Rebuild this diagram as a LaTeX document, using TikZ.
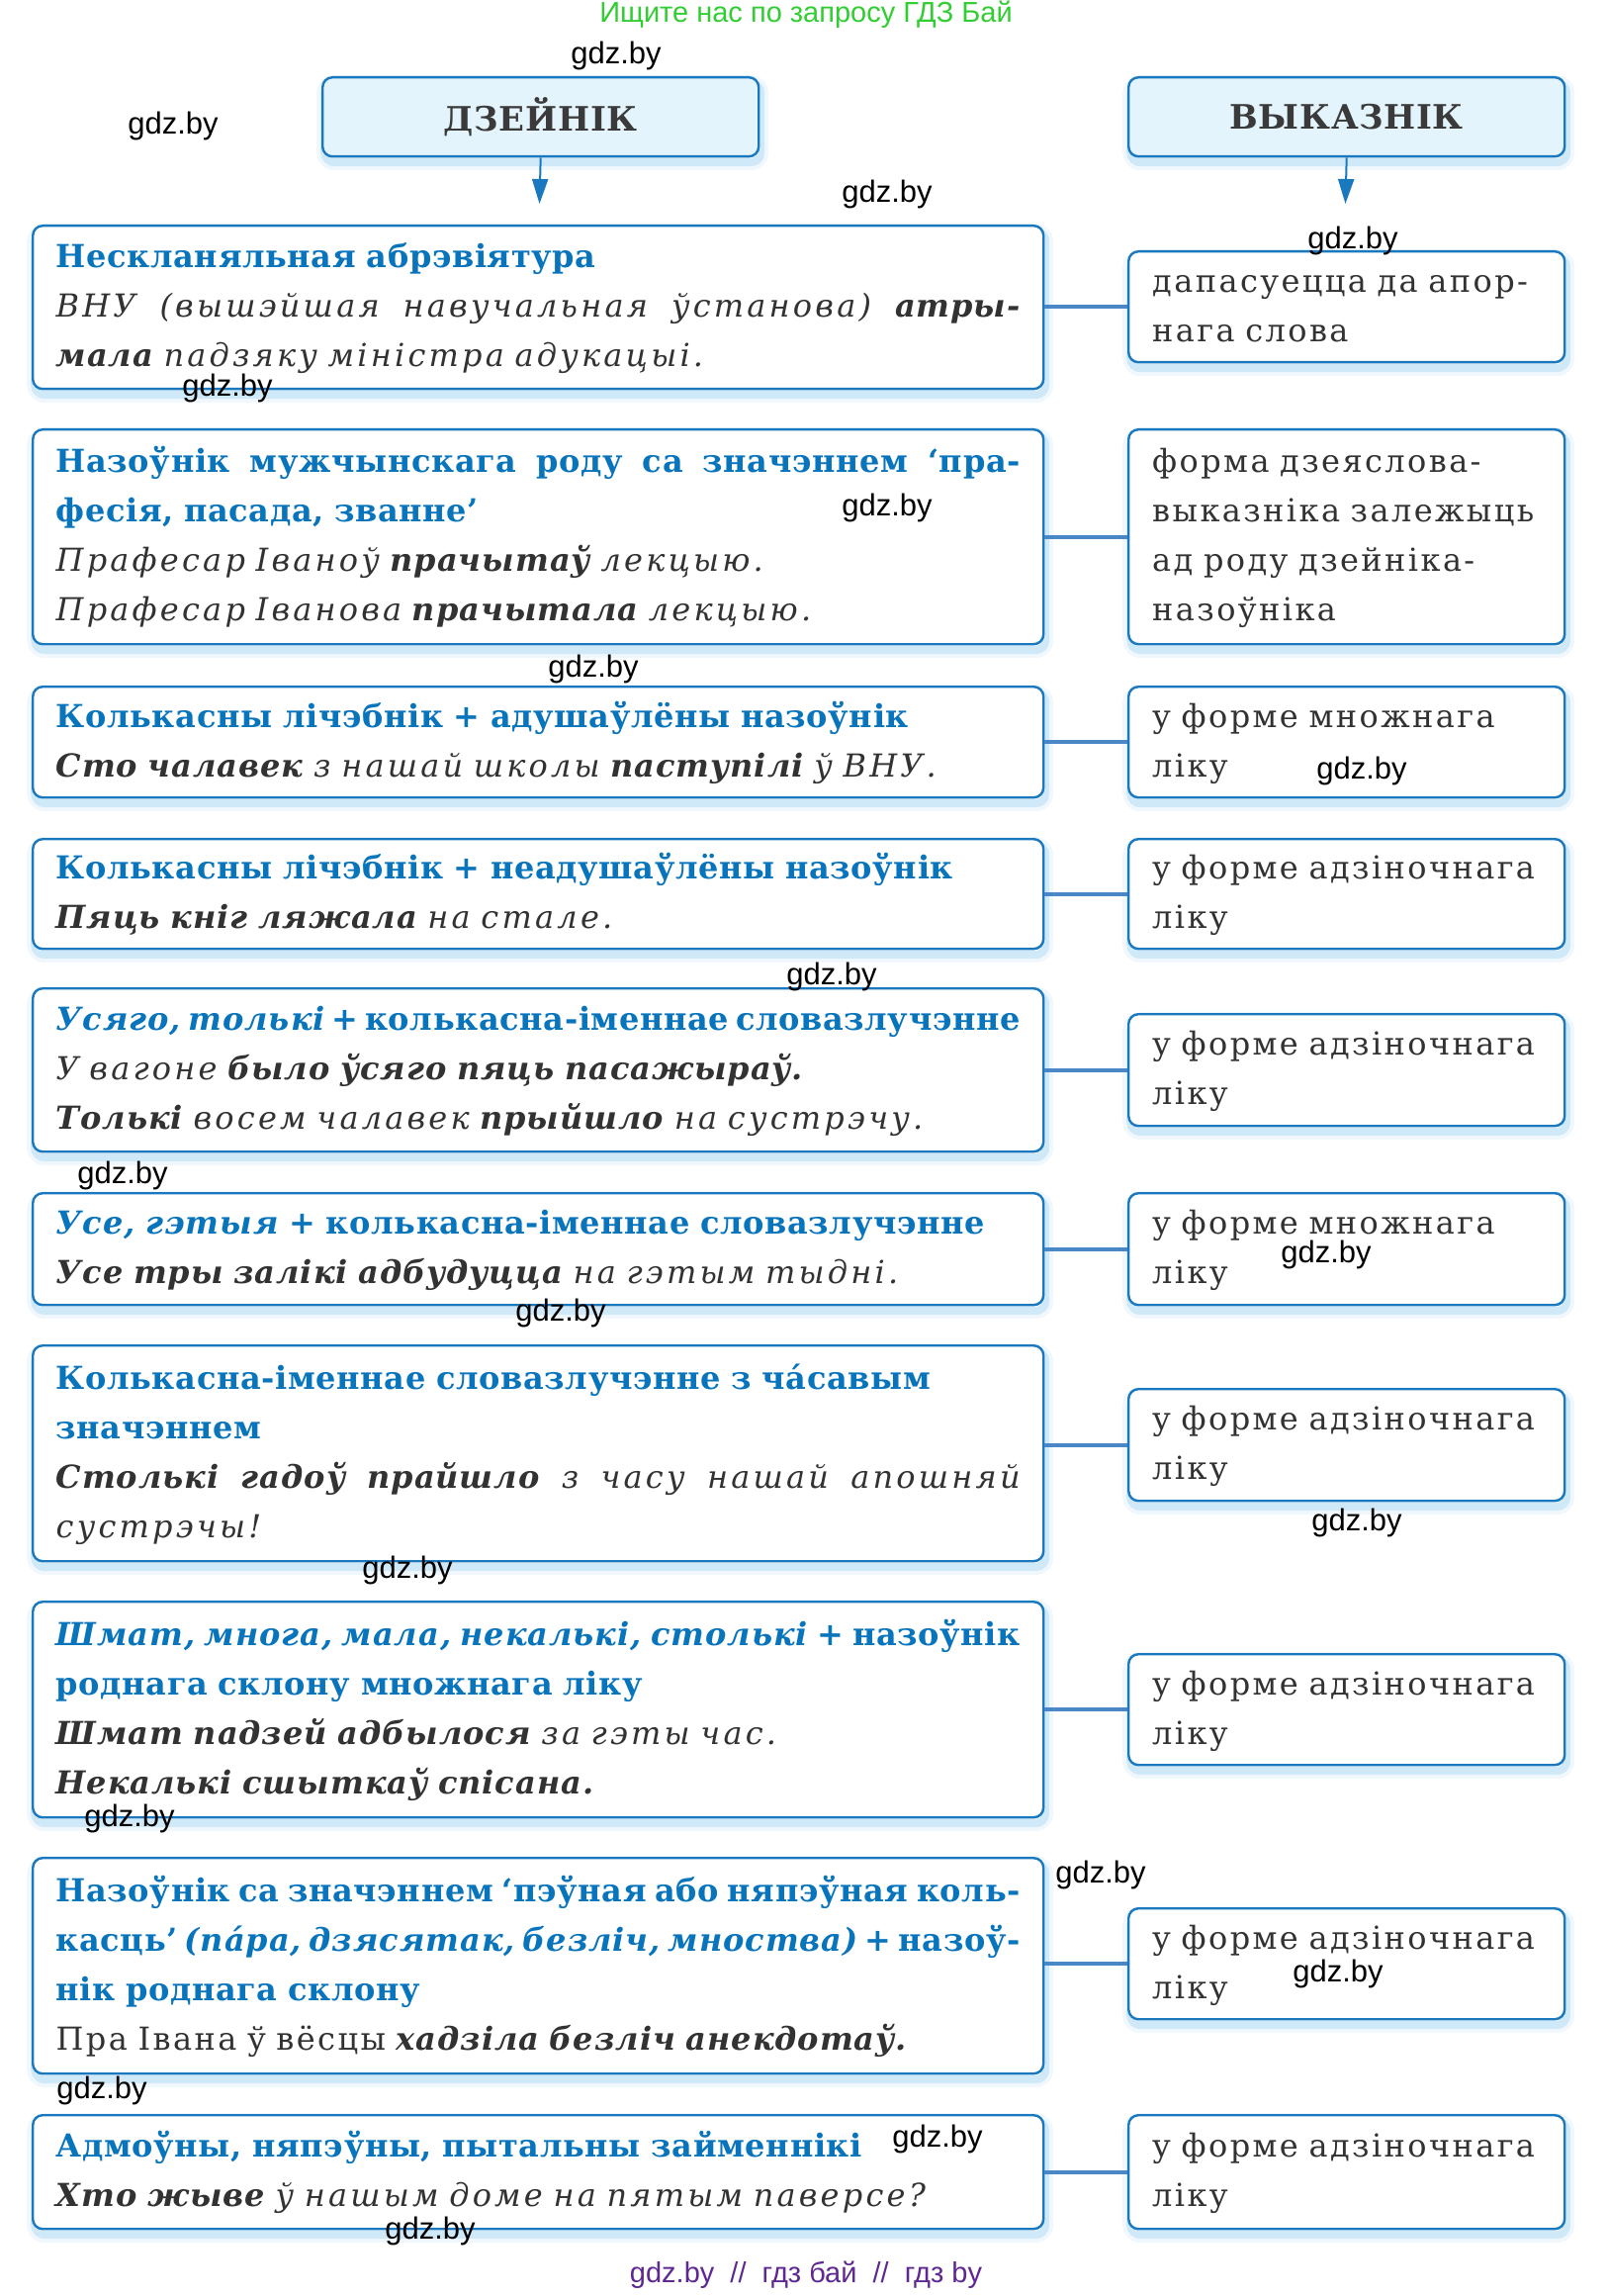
\documentclass[tikz,border=0pt]{standalone}
\usepackage{fontspec}
\setmainfont{DejaVu Serif}[UprightFeatures={LetterSpace=7.5},ItalicFeatures={LetterSpace=10},BoldFeatures={LetterSpace=2},BoldItalicFeatures={LetterSpace=3}]
\newfontfamily\wmfont{Liberation Sans}
\usetikzlibrary{arrows.meta}
\definecolor{bord}{RGB}{26,120,190}
\definecolor{headblue}{RGB}{8,116,188}
\definecolor{conn}{RGB}{74,135,198}
\definecolor{hfill}{RGB}{228,244,252}
\definecolor{txt}{RGB}{50,50,50}
\definecolor{htxt}{RGB}{58,58,58}
\definecolor{glow}{RGB}{170,215,242}
\definecolor{topgreen}{RGB}{50,205,50}
\definecolor{footpurple}{RGB}{95,40,145}
\newcommand\Hd[1]{{\bfseries\color{headblue}#1}}
\newcommand\Hi[1]{{\bfseries\itshape\color{headblue}#1}}
\newcommand\Ei[1]{{\itshape #1}}
\newcommand\Eb[1]{{\bfseries\itshape #1}}
\newcommand\jl[1]{{\spaceskip=0.32em plus 2em minus 0.16em\makebox[487.5pt][s]{#1}}}
\newcommand\pl[1]{\mbox{#1}}
\tikzset{
  glowy/.style={
    preaction={draw=glow, line width=8pt, opacity=0.18, transform canvas={xshift=1pt,yshift=-3pt}},
    preaction={draw=glow, line width=4pt, opacity=0.45, transform canvas={xshift=1pt,yshift=-3pt}}},
  basebox/.style={glowy, draw=bord, line width=1.2pt, rounded corners=5pt, fill=white,
    anchor=north west, inner ysep=0pt, align=left, text=txt,
    font=\fontsize{16}{25}\selectfont,
    execute at begin node=\strut, execute at end node=\strut},
  lbox/.style={basebox, text width=487.5pt, inner xsep=11.75pt},
  rbox/.style={basebox, text width=196.5pt, inner xsep=12pt},
  hbox/.style={glowy, draw=bord, line width=1.2pt, rounded corners=5pt, fill=hfill,
    anchor=north west, minimum width=220.5pt, minimum height=40pt, inner sep=0pt,
    text=htxt, font=\fontsize{17}{20}\selectfont\bfseries},
  link/.style={draw=conn, line width=2.2pt},
  down/.style={draw=bord, line width=1pt, -{Triangle[length=12.5pt,width=8pt]}},
  wm/.style={font=\wmfont\fontsize{15.5}{18}\selectfont, text=black, inner sep=0pt},
}
\begin{document}
\begin{tikzpicture}[x=0.5pt,y=-0.5pt]
\path[use as bounding box] (0,0) rectangle (1625,2321);

% header
\node[font=\wmfont\fontsize{14.5}{17}\selectfont, text=topgreen, inner sep=0pt] (top) at (815,15) {Ищите нас по запросу ГДЗ Бай};
\node[hbox] (H1) at (325,77) {ДЗЕЙНІК};
\node[hbox] (H2) at (1140,77) {ВЫКАЗНІК};
\coordinate (a1) at (545.5,206);
\coordinate (a2) at (1360.5,206);
\draw[down] (H1.south) -- (a1);
\draw[down] (H2.south) -- (a2);

% row 1
\node[lbox, minimum height=82.5pt] (L1) at (32,227) {\pl{\Hd{Нескланяльная абрэвіятура}}\\
\jl{\Ei{ВНУ (вышэйшая навучальная ўстанова)} \Eb{атры-}}\\
\pl{\Eb{мала} \Ei{падзяку міністра адукацыі.}}};
\node[rbox, minimum height=56pt] (R1) at (1140,253) {\pl{дапасуецца да апор-}\\\pl{нага слова}};

% row 2
\node[lbox, minimum height=108.5pt] (L2) at (32,433) {\jl{\Hd{Назоўнік мужчынскага роду са значэннем ‘пра-}}\\
\pl{\Hd{фесія, пасада, званне’}}\\
\pl{\Ei{Прафесар Іваноў} \Eb{прачытаў} \Ei{лекцыю.}}\\
\pl{\Ei{Прафесар Іванова} \Eb{прачытала} \Ei{лекцыю.}}};
\node[rbox, minimum height=108.5pt] (R2) at (1140,433) {\pl{форма дзеяслова-}\\\pl{выказніка залежыць}\\\pl{ад роду дзейніка-}\\\pl{назоўніка}};

% row 3
\node[lbox, minimum height=56pt] (L3) at (32,693) {\pl{\Hd{Колькасны лічэбнік + адушаўлёны назоўнік}}\\
\pl{\Eb{Сто чалавек} \Ei{з нашай школы} \Eb{паступілі} \Ei{ў ВНУ.}}};
\node[rbox, minimum height=56pt] (R3) at (1140,693) {\pl{у форме множнага}\\\pl{ліку}};

% row 4
\node[lbox, minimum height=55.5pt] (L4) at (32,847) {\pl{\Hd{Колькасны лічэбнік + неадушаўлёны назоўнік}}\\
\pl{\Eb{Пяць кніг ляжала} \Ei{на стале.}}};
\node[rbox, minimum height=55.5pt] (R4) at (1140,847) {\pl{у форме адзіночнага}\\\pl{ліку}};

% row 5
\node[lbox, minimum height=82.5pt] (L5) at (32,998) {\jl{\Hi{Усяго, толькі} \Hd{+ колькасна-іменнае словазлучэнне}}\\
\pl{\Ei{У вагоне} \Eb{было ўсяго пяць пасажыраў.}}\\
\pl{\Eb{Толькі} \Ei{восем чалавек} \Eb{прыйшло} \Ei{на сустрэчу.}}};
\node[rbox, minimum height=56.5pt] (R5) at (1140,1024) {\pl{у форме адзіночнага}\\\pl{ліку}};

% row 6
\node[lbox, minimum height=56.5pt] (L6) at (32,1205) {\pl{\Hi{Усе, гэтыя} \Hd{+ колькасна-іменнае словазлучэнне}}\\
\pl{\Eb{Усе тры залікі адбудуцца} \Ei{на гэтым тыдні.}}};
\node[rbox, minimum height=56.5pt] (R6) at (1140,1205) {\pl{у форме множнага}\\\pl{ліку}};

% row 7
\node[lbox, minimum height=109pt] (L7) at (32,1359) {\pl{\Hd{Колькасна-іменнае словазлучэнне з чáсавым}}\\
\pl{\Hd{значэннем}}\\
\jl{\Eb{Столькі гадоў прайшло} \Ei{з часу нашай апошняй}}\\
\pl{\Ei{сустрэчы!}}};
\node[rbox, minimum height=56.5pt] (R7) at (1140,1403) {\pl{у форме адзіночнага}\\\pl{ліку}};

% row 8
\node[lbox, minimum height=109pt] (L8) at (32,1618) {\jl{\Hi{Шмат, многа, мала, некалькі, столькі} \Hd{+ назоўнік}}\\
\pl{\Hd{роднага склону множнага ліку}}\\
\pl{\Eb{Шмат падзей адбылося} \Ei{за гэты час.}}\\
\pl{\Eb{Некалькі сшыткаў спісана.}}};
\node[rbox, minimum height=56pt] (R8) at (1140,1671) {\pl{у форме адзіночнага}\\\pl{ліку}};

% row 9
\node[lbox, minimum height=109pt] (L9) at (32,1877) {\jl{\Hd{Назоўнік са значэннем ‘пэўная або няпэўная коль-}}\\
\jl{\Hd{касць’ \Hi{(пáра, дзясятак, безліч, мноства)} + назоў-}}\\
\pl{\Hd{нік роднага склону}}\\
\pl{Пра Івана ў вёсцы \Eb{хадзіла безліч анекдотаў.}}};
\node[rbox, minimum height=56pt] (R9) at (1140,1928) {\pl{у форме адзіночнага}\\\pl{ліку}};

% row 10
\node[lbox, minimum height=57.5pt] (L10) at (32,2137) {\pl{\Hd{Адмоўны, няпэўны, пытальны займеннікі}}\\
\pl{\Eb{Хто жыве} \Ei{ў нашым доме на пятым паверсе?}}};
\node[rbox, minimum height=57.5pt] (R10) at (1140,2137) {\pl{у форме адзіночнага}\\\pl{ліку}};

% connectors
\foreach \i in {1,...,10} {\draw[link] (L\i.east |- R\i.west) -- (R\i.west);}

% watermarks
\node[wm] (w1) at (623,56) {gdz.by};
\node[wm] (w2) at (175,127) {gdz.by};
\node[wm] (w3) at (897,196) {gdz.by};
\node[wm] (w4) at (1368,243) {gdz.by};
\node[wm] (w5) at (230,392) {gdz.by};
\node[wm] (w6) at (897,513) {gdz.by};
\node[wm] (w7) at (600,676) {gdz.by};
\node[wm] (w8) at (1377,779) {gdz.by};
\node[wm] (w9) at (841,987) {gdz.by};
\node[wm] (w10) at (124,1188) {gdz.by};
\node[wm] (w11) at (1341,1268) {gdz.by};
\node[wm] (w12) at (567,1327) {gdz.by};
\node[wm] (w13) at (1372,1539) {gdz.by};
\node[wm] (w14) at (412,1587) {gdz.by};
\node[wm] (w15) at (131,1838) {gdz.by};
\node[wm] (w16) at (1113,1895) {gdz.by};
\node[wm] (w17) at (1353,1995) {gdz.by};
\node[wm] (w18) at (103,2113) {gdz.by};
\node[wm] (w19) at (948,2162) {gdz.by};
\node[wm] (w20) at (435,2255) {gdz.by};

% footer
\node[font=\wmfont\fontsize{14.5}{17}\selectfont, text=footpurple, inner sep=0pt] (foot) at (815,2300) {gdz.by \ // \ гдз бай \ // \ гдз by};
\end{tikzpicture}
\end{document}
